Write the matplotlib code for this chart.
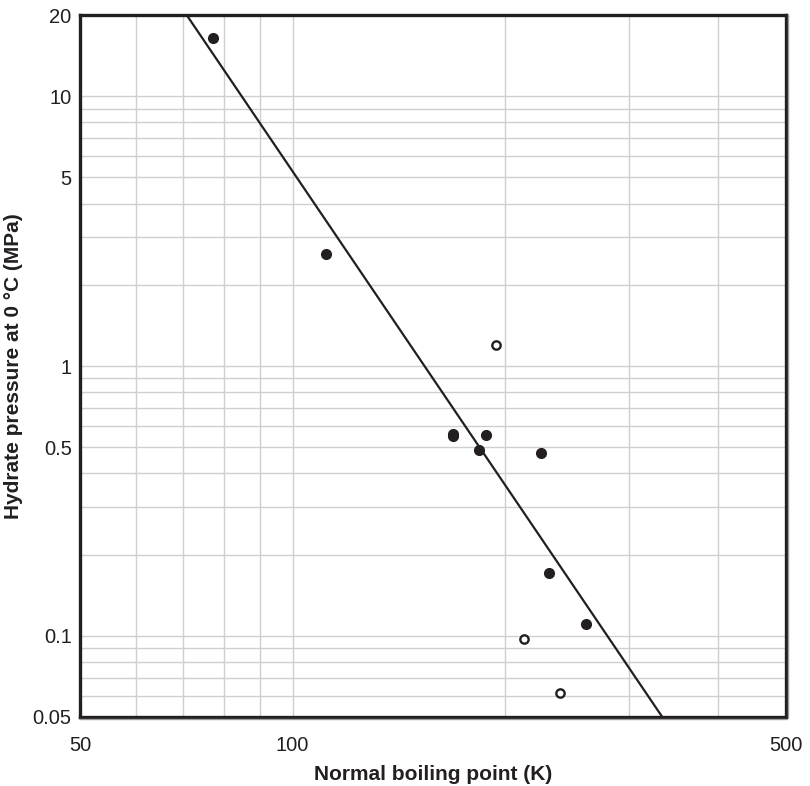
import matplotlib
matplotlib.use("Agg")
import matplotlib.pyplot as plt
import matplotlib.transforms as mtransforms
from matplotlib.ticker import FixedLocator, NullFormatter, FixedFormatter

plt.rcParams['font.family'] = ['Liberation Sans', 'DejaVu Sans']

# Data: filled points (hydrate formers)
filled_bp = [77.1, 111.5, 169.0, 169.0, 188.0, 184.0, 225.0, 230.6, 260.4]
filled_p = [16.4, 2.6, 0.562, 0.548, 0.553, 0.488, 0.475, 0.1705, 0.111]

# Open points
open_bp = [194.0, 213.0, 239.4]
open_p = [1.2, 0.097, 0.0612]

# Correlation line endpoints
line_bp = [70.8, 334.0]
line_p = [20.0, 0.05]

x_ticks = [50, 100, 500]
x_ticklabels = ["50", "100", "500"]
y_ticks = [0.05, 0.1, 0.5, 1, 5, 10, 20]
y_ticklabels = ["0.05", "0.1", "0.5", "1", "5", "10", "20"]

x_grid = [60, 70, 80, 90, 100, 200, 300, 400]
y_grid = [0.06, 0.07, 0.08, 0.09, 0.1, 0.2, 0.3, 0.4, 0.5, 0.6, 0.7, 0.8, 0.9,
          1, 2, 3, 4, 5, 6, 7, 8, 9, 10]

dark = '#231f20'

fig = plt.figure(figsize=(8.1, 7.86), dpi=100)
ax = fig.add_axes([80/810, 1 - 717/786, (786 - 80)/810, (717 - 15)/786])
ax.set_xscale('log')
ax.set_yscale('log')
ax.set_xlim(50, 500)
ax.set_ylim(0.05, 20)

for gx in x_grid:
    ax.axvline(gx, color='#cfcfcf', lw=1.0, zorder=0)
for gy in y_grid:
    ax.axhline(gy, color='#cfcfcf', lw=1.0, zorder=0)

ax.plot(line_bp, line_p, color=dark, lw=1.6, zorder=3, solid_capstyle='butt')
ax.plot(filled_bp, filled_p, 'o', color=dark, ms=7, mec=dark, zorder=4)
ax.plot(open_bp, open_p, 'o', mfc='white', mec=dark, ms=6, mew=1.7, zorder=4)

ax.xaxis.set_major_locator(FixedLocator(x_ticks))
ax.xaxis.set_major_formatter(FixedFormatter(x_ticklabels))
ax.xaxis.set_minor_locator(FixedLocator([]))
ax.xaxis.set_minor_formatter(NullFormatter())
ax.yaxis.set_major_locator(FixedLocator(y_ticks))
ax.yaxis.set_major_formatter(FixedFormatter(y_ticklabels))
ax.yaxis.set_minor_locator(FixedLocator([]))
ax.yaxis.set_minor_formatter(NullFormatter())

ax.tick_params(axis='both', which='both', length=0, labelsize=14.5, colors='#231f20')
ax.tick_params(axis='x', pad=14)
ax.tick_params(axis='y', pad=6)

for s in ax.spines.values():
    s.set_linewidth(2.4)
    s.set_color(dark)

# subtle grey shadow lines under bottom and right spines
tb = mtransforms.offset_copy(ax.transAxes, fig=fig, x=0, y=-2.4, units='dots')
ax.plot([0, 1], [0, 0], transform=tb, color='#9a9a9a', lw=1.0, clip_on=False, zorder=5)
tr = mtransforms.offset_copy(ax.transAxes, fig=fig, x=2.4, y=0, units='dots')
ax.plot([1, 1], [0, 1], transform=tr, color='#9a9a9a', lw=1.0, clip_on=False, zorder=5)

ax.set_xlabel('Normal boiling point (K)', fontsize=15, fontweight='bold', color=dark, labelpad=7)
ax.set_ylabel('Hydrate pressure at 0 °C (MPa)', fontsize=15, fontweight='bold', color=dark, labelpad=7)

fig.savefig('out.png', dpi=100)
